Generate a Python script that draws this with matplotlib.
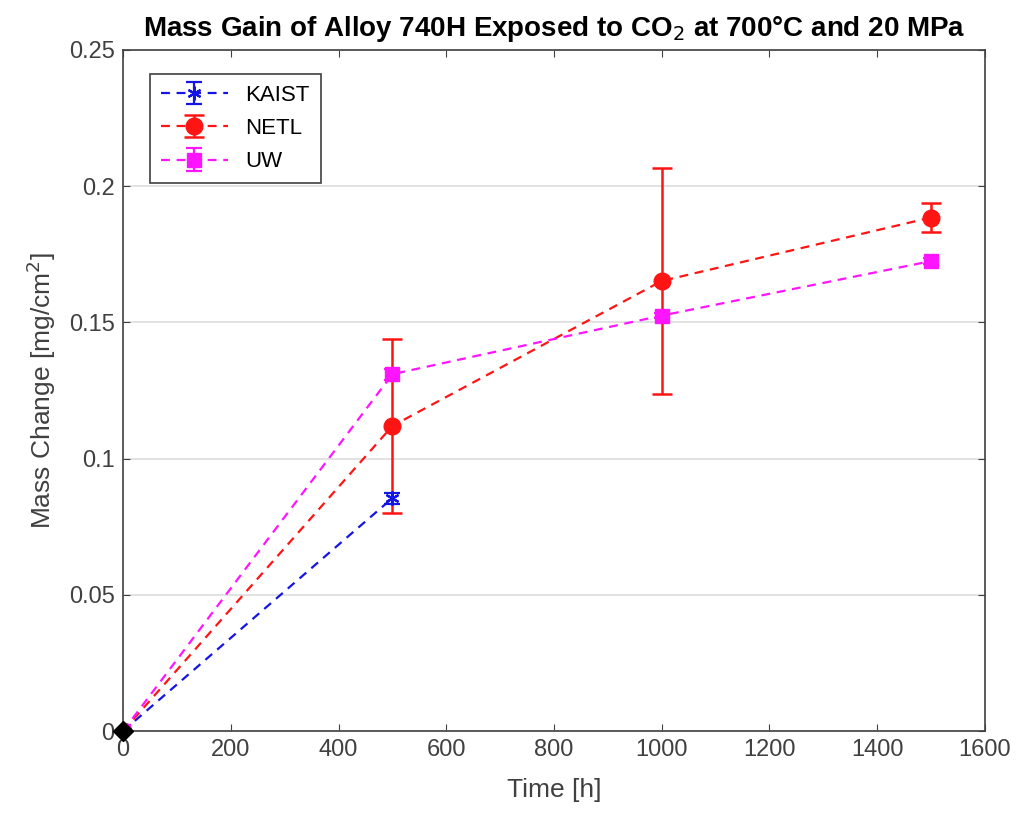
import matplotlib.pyplot as plt

plt.rcParams['font.family'] = ['Liberation Sans', 'DejaVu Sans']

# data
kaist_t = [0, 500]
kaist_m = [0, 0.0855]
kaist_e = [0, 0.002]

netl_t = [0, 500, 1000, 1500]
netl_m = [0, 0.112, 0.1652, 0.1885]
netl_e = [0, 0.032, 0.0415, 0.0053]

uw_t = [0, 500, 1000, 1500]
uw_m = [0, 0.131, 0.1525, 0.1725]
uw_e = [0, 0.002, 0.001, 0.001]

fig = plt.figure(figsize=(10.17, 8.15), dpi=100)
ax = fig.add_axes([0.121, 0.103, 0.8475, 0.8357])

dash = (4, 3)
ax.errorbar(kaist_t, kaist_m, yerr=kaist_e, color='#1414e6', ls='--', lw=1.6,
            marker=(6, 2, 0), ms=10, mew=1.6, capsize=6, elinewidth=1.6,
            capthick=1.6, dashes=dash, label='KAIST')
ax.errorbar(netl_t, netl_m, yerr=netl_e, color='#ff1414', ls='--', lw=1.6,
            marker='o', ms=12, capsize=7, elinewidth=1.8, capthick=1.8,
            dashes=dash, label='NETL')
ax.errorbar(uw_t, uw_m, yerr=uw_e, color='#ff14ff', ls='--', lw=1.6,
            marker='s', ms=10, capsize=6, elinewidth=1.6, capthick=1.6,
            dashes=dash, label='UW')
ax.plot([0], [0], marker='D', color='black', ms=10, ls='none', zorder=5,
        clip_on=False)

ax.set_xlim(0, 1600)
ax.set_ylim(0, 0.25)
ax.set_xticks(range(0, 1601, 200))
ax.set_yticks([0, 0.05, 0.1, 0.15, 0.2, 0.25])
ax.set_yticklabels(['0', '0.05', '0.1', '0.15', '0.2', '0.25'])
ax.yaxis.grid(True, color='#dddddd', lw=1.2)
ax.set_axisbelow(True)
ax.tick_params(labelsize=17, direction='in', length=5, colors='#404040',
               top=True, right=True, pad=6)
for s in ax.spines.values():
    s.set_color('#404040')
    s.set_linewidth(1.2)

ax.set_xlabel('Time [h]', fontsize=19, color='#404040', labelpad=12)
ax.set_ylabel('Mass Change [mg/cm$^2$]', fontsize=19, color='#404040',
              labelpad=8)
ax.set_title('Mass Gain of Alloy 740H Exposed to CO$_2$ at 700°C and 20 MPa',
             fontsize=20, fontweight='bold', pad=10)

leg = ax.legend(loc='upper left', fontsize=16, fancybox=False,
                edgecolor='#404040', bbox_to_anchor=(0.031, 0.965),
                borderaxespad=0, handlelength=3.0, borderpad=0.5,
                labelspacing=0.55, framealpha=1)
leg.get_frame().set_linewidth(1.2)

fig.savefig('out.png', dpi=100)
